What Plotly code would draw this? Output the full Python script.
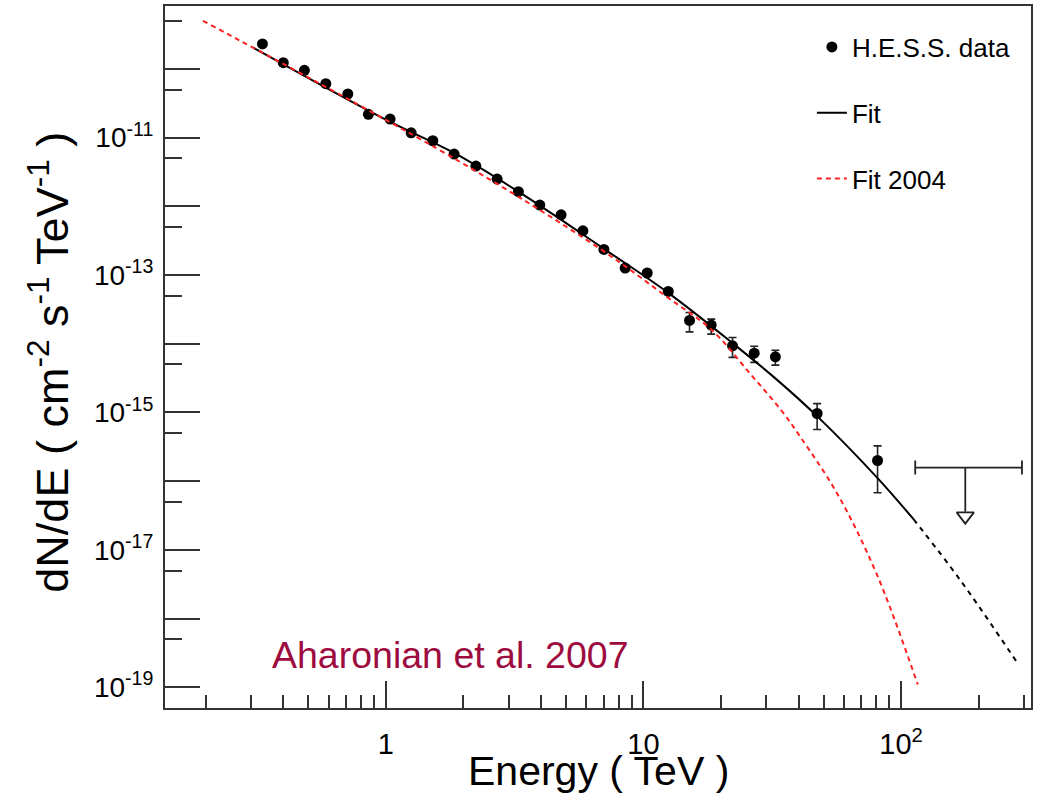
import plotly.graph_objects as go

# ---------------- data ----------------
energy = [0.332, 0.400, 0.483, 0.585, 0.712, 0.856, 1.039, 1.254, 1.522, 1.841,
          2.236, 2.704, 3.27, 3.96, 4.79, 5.82, 7.02, 8.49, 10.34, 12.48,
          15.09, 18.32, 22.16, 26.9, 32.5, 47.2, 81.0]
flux = [2.30e-10, 1.23e-10, 9.5e-11, 6.07e-11, 4.30e-11, 2.18e-11, 1.86e-11, 1.17e-11, 8.98e-12, 5.75e-12,
        3.85e-12, 2.49e-12, 1.63e-12, 1.04e-12, 7.52e-13, 4.40e-13, 2.36e-13, 1.26e-13, 1.07e-13, 5.77e-14,
        2.18e-14, 1.87e-14, 9.33e-15, 7.30e-15, 6.45e-15, 9.66e-16, 2.0e-16]
flux_err_up = [0, 0, 0, 0, 0, 0, 0, 0, 0, 0,
               0, 0, 0, 0, 0, 0, 1.6e-14, 1.0e-14, 8.0e-15, 5.0e-15,
               6.7e-15, 4.1e-15, 3.0e-15, 1.9e-15, 1.6e-15, 3.8e-16, 1.27e-16]
flux_err_dn = [0, 0, 0, 0, 0, 0, 0, 0, 0, 0,
               0, 0, 0, 0, 0, 0, 1.6e-14, 1.0e-14, 8.0e-15, 5.0e-15,
               6.9e-15, 4.9e-15, 3.0e-15, 1.95e-15, 1.56e-15, 4.0e-16, 1.32e-16]

# upper limit (last energy bin)
ul_energy = [177.4]
ul_flux = [1.58e-16]
ul_bin_lo = [64.0]     # TeV to the left
ul_bin_hi = [117.0]    # TeV to the right
ul_arrow_flux = [1.58e-16, 3.6e-17]
ul_head_flux = [3.1e-17]

# fit (2007), solid part
fit_E = [0.306, 1.0, 1.841, 3.27, 7.21, 12.48, 22.16, 33.0, 47.4, 81.0, 111.7]
fit_F = [2.03e-10, 1.82e-11, 5.96e-12, 1.63e-12, 2.25e-13, 5.5e-14, 1.02e-14, 2.98e-15,
         8.7e-16, 1.11e-16, 2.8e-17]
# fit extrapolation (dashed)
fitx_E = [111.7, 170.0, 283.0]
fitx_F = [2.8e-17, 3.6e-18, 2.25e-19]

# Fit 2004 (red dashed)
fit04_E = [0.195, 1.887, 6.79, 12.33, 18.43, 25.96, 34.5, 40.6, 56.3, 80.5, 116.0]
fit04_F = [5.0e-10, 4.71e-12, 2.40e-13, 4.8e-14, 1.58e-14, 3.65e-15, 1.04e-15,
           4.42e-16, 6.75e-17, 4.4e-18, 1.1e-19]

# axis ticks
x_major = [1, 10, 100]
x_major_text = ["1", "10", "10<sup>2</sup>"]
x_minor = [0.2, 0.3, 0.4, 0.5, 0.6, 0.7, 0.8, 0.9,
           2, 3, 4, 5, 6, 7, 8, 9,
           20, 30, 40, 50, 60, 70, 80, 90, 200, 300]
y_major = [1e-19, 1e-18, 1e-17, 1e-16, 1e-15, 1e-14, 1e-13, 1e-12, 1e-11, 1e-10]
y_major_text = ["10<sup>-19</sup>", " ", "10<sup>-17</sup>", " ", "10<sup>-15</sup>", " ",
                "10<sup>-13</sup>", " ", "10<sup>-11</sup>", " "]
y_minor = [5e-20, 5e-19, 5e-18, 5e-17, 5e-16, 5e-15, 5e-14, 5e-13, 5e-12, 5e-11, 5e-10]

FONT = "Liberation Sans, Arial, Helvetica, sans-serif"
AX = "#333333"

fig = go.Figure()

fig.add_trace(go.Scatter(
    x=energy, y=flux, mode="markers", name="H.E.S.S. data", legendgroup="a",
    marker=dict(color="black", size=11),
    error_y=dict(type="data", symmetric=False, array=flux_err_up, arrayminus=flux_err_dn,
                 color="#222222", thickness=1.6, width=4),
))
fig.add_trace(go.Scatter(
    x=fit_E, y=fit_F, mode="lines", name="Fit", legendgroup="b",
    line=dict(color="black", width=2, shape="spline", smoothing=1.0),
))
fig.add_trace(go.Scatter(
    x=fit04_E, y=fit04_F, mode="lines", name="Fit 2004", legendgroup="c",
    line=dict(color="#ff2020", width=2, dash="5px,4px", shape="spline", smoothing=1.0),
))
fig.add_trace(go.Scatter(
    x=fitx_E, y=fitx_F, mode="lines", showlegend=False, legendgroup="d",
    line=dict(color="black", width=2, dash="5px,5px", shape="spline"),
))
# upper limit
fig.add_trace(go.Scatter(
    x=ul_energy, y=ul_flux, mode="markers", showlegend=False, legendgroup="e",
    marker=dict(size=1, color="rgba(0,0,0,0)"),
    error_x=dict(type="data", symmetric=False, array=ul_bin_hi, arrayminus=ul_bin_lo,
                 color="#222222", thickness=1.8, width=7),
))
fig.add_trace(go.Scatter(
    x=ul_energy * 2, y=ul_arrow_flux, mode="lines", showlegend=False, legendgroup="e",
    line=dict(color="#222222", width=1.8),
))
fig.add_trace(go.Scatter(
    x=ul_energy, y=ul_head_flux, mode="markers", showlegend=False, legendgroup="e",
    marker=dict(symbol="triangle-down-open", size=15, color="#222222", line=dict(width=1.8)),
))

fig.add_annotation(
    text="Aharonian et al. 2007", xref="paper", yref="paper", x=0.3297, y=0.0755,
    xanchor="center", yanchor="middle", showarrow=False,
    font=dict(family=FONT, size=37.5, color="#9e0b3f"),
)
fig.add_annotation(
    text="Energy ( TeV )", xref="paper", yref="paper", x=0.5, y=-0.0895,
    xanchor="center", yanchor="middle", showarrow=False,
    font=dict(family=FONT, size=41, color="black"),
)
fig.add_annotation(
    text="dN/dE ( cm<sup>-2</sup> s<sup>-1</sup> TeV<sup>-1</sup> )", xref="paper", yref="paper",
    x=-0.134, y=0.4933, xanchor="center", yanchor="middle", textangle=-90, showarrow=False,
    font=dict(family=FONT, size=45, color="black"),
)

fig.update_layout(
    width=1037, height=808,
    margin=dict(l=165, r=6, t=6, b=100, autoexpand=False),
    paper_bgcolor="white", plot_bgcolor="white",
    font=dict(family=FONT, color="black"),
    showlegend=True,
    legend=dict(x=0.747, y=0.975, xanchor="left", yanchor="top",
                bgcolor="rgba(0,0,0,0)", font=dict(family=FONT, size=26, color="black"),
                tracegroupgap=29, itemwidth=30),
    xaxis=dict(
        type="log", range=[-0.857, 2.504], automargin=False,
        showgrid=False, zeroline=False,
        showline=True, linecolor=AX, linewidth=2, mirror=True,
        ticks="inside", ticklen=27, tickwidth=1.8, tickcolor=AX,
        tickmode="array", tickvals=x_major, ticktext=x_major_text,
        tickfont=dict(family=FONT, size=29, color="black"),
        ticklabelstandoff=9,
        minor=dict(ticks="inside", ticklen=13, tickwidth=1.8, tickcolor=AX,
                   tickmode="array", tickvals=x_minor, showgrid=False),
    ),
    yaxis=dict(
        type="log", range=[-19.30, -9.086], automargin=False,
        showgrid=False, zeroline=False,
        showline=True, linecolor=AX, linewidth=2, mirror=True,
        ticks="inside", ticklen=35, tickwidth=1.8, tickcolor=AX,
        tickmode="array", tickvals=y_major, ticktext=y_major_text,
        tickfont=dict(family=FONT, size=28, color="black"),
        ticklabelstandoff=4,
        minor=dict(ticks="inside", ticklen=17, tickwidth=1.8, tickcolor=AX,
                   tickmode="array", tickvals=y_minor, showgrid=False),
    ),
)

fig.write_html("out.html", config={"displayModeBar": False},
               post_script="document.body.style.margin='0';")
